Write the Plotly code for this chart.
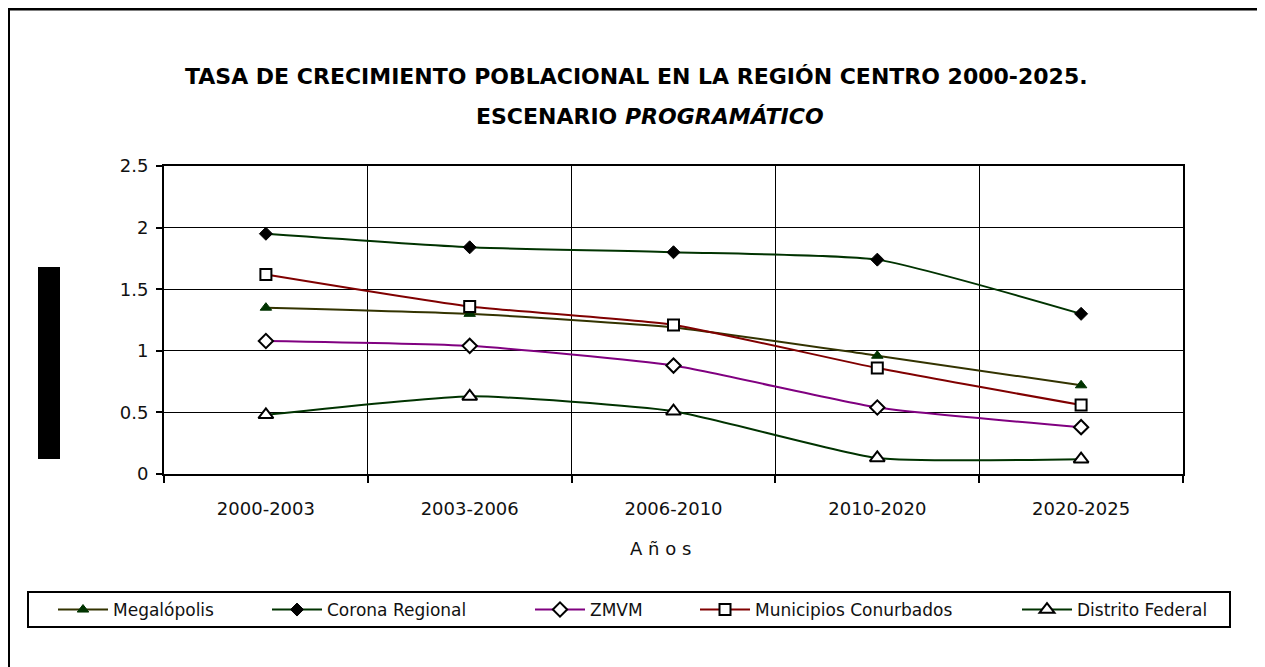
import plotly.graph_objects as go

# Datos
periodos = ["2000-2003", "2003-2006", "2006-2010", "2010-2020", "2020-2025"]
megalopolis = [1.35, 1.30, 1.19, 0.96, 0.72]
corona_regional = [1.95, 1.84, 1.80, 1.74, 1.30]
zmvm = [1.08, 1.04, 0.88, 0.54, 0.38]
municipios_conurbados = [1.62, 1.36, 1.21, 0.86, 0.56]
distrito_federal = [0.48, 0.63, 0.51, 0.13, 0.12]

# La página tiene 8px de margen; todo se mide en pixeles de la página
MARGEN = 8
ANCHO, ALTO = 1265, 667
# Área de trazado en pixeles (izq, der, arriba, abajo)
IZQ, DER, ARR, ABA = 164, 1183, 166, 474


def px_x(px):
    return (px - IZQ) / (DER - IZQ)


def px_y(py):
    return (ABA - py) / (ABA - ARR)


series = [
    ("Megalópolis", megalopolis, "#333300",
     dict(symbol="triangle-up", size=10, color="#003300", line=dict(color="#003300", width=1))),
    ("Corona Regional", corona_regional, "#003300",
     dict(symbol="diamond", size=10, color="black", line=dict(color="black", width=1))),
    ("ZMVM", zmvm, "#800080",
     dict(symbol="diamond", size=11, color="white", line=dict(color="black", width=2))),
    ("Municipios Conurbados", municipios_conurbados, "#800000",
     dict(symbol="square", size=11, color="white", line=dict(color="black", width=2))),
    ("Distrito Federal", distrito_federal, "#003300",
     dict(symbol="triangle-up", size=13, color="white", line=dict(color="black", width=2))),
]

# inicio del texto (px) de cada entrada de la leyenda
inicio_texto = [113, 327, 590, 755, 1077]

fig = go.Figure()
for i, (nombre, valores, color, marcador) in enumerate(series):
    ley = "legend" if i == 0 else f"legend{i + 1}"
    fig.add_trace(go.Scatter(
        x=periodos, y=valores, name=nombre, mode="lines+markers",
        line=dict(color=color, width=2, shape="spline", smoothing=0.5),
        marker=marcador, legend=ley,
    ))
    fig.update_layout({ley: dict(
        x=px_x(inicio_texto[i] - 60), y=px_y(610), xanchor="left", yanchor="middle",
        orientation="h", bgcolor="rgba(0,0,0,0)", itemwidth=50,
        font=dict(family="DejaVu Sans", size=17, color="#111"),
    )})

fig.update_layout(
    width=ANCHO - MARGEN, height=ALTO - MARGEN,
    margin=dict(l=IZQ - MARGEN, r=ANCHO - DER, t=ARR - MARGEN, b=ALTO - ABA),
    paper_bgcolor="white", plot_bgcolor="white",
    showlegend=True,
    font=dict(family="DejaVu Sans", size=18, color="#111"),
)

fig.update_xaxes(
    type="category", range=[-0.5, 4.5], tickson="boundaries",
    ticks="outside", ticklen=7, tickwidth=2, tickcolor="black",
    showline=True, linewidth=2, linecolor="black", mirror=True,
    showgrid=True, gridcolor="black", gridwidth=1,
    ticklabelstandoff=17, tickfont=dict(size=18),
)
fig.update_yaxes(
    range=[0, 2.5], dtick=0.5,
    ticks="outside", ticklen=6, tickwidth=2, tickcolor="black",
    showline=True, linewidth=2, linecolor="black", mirror=True,
    showgrid=True, gridcolor="black", gridwidth=1,
    zeroline=False, ticklabelstandoff=4, tickfont=dict(size=18),
)

# Título en dos líneas
fuente_titulo = dict(family="DejaVu Sans", size=22, color="black")
fig.add_annotation(
    text="<b>TASA DE CRECIMIENTO POBLACIONAL EN LA REGIÓN CENTRO 2000-2025.</b>",
    x=px_x(636), xref="paper", xanchor="center",
    y=px_y(76), yref="paper", yanchor="middle", showarrow=False,
    font=fuente_titulo,
)
fig.add_annotation(
    text="<b>ESCENARIO <i>PROGRAMÁTICO</i></b>",
    x=px_x(650), xref="paper", xanchor="center",
    y=px_y(117), yref="paper", yanchor="middle", showarrow=False,
    font=fuente_titulo,
)

# Título del eje X
fig.add_annotation(
    text="A ñ o s", x=px_x(660), xref="paper", xanchor="center",
    y=px_y(548), yref="paper", yanchor="middle", showarrow=False,
    font=dict(family="DejaVu Sans", size=18, color="#111"),
)

# Marco exterior, recuadro negro y caja de la leyenda
fig.add_shape(type="line", xref="paper", yref="paper",
              x0=px_x(8), x1=px_x(1265), y0=px_y(9), y1=px_y(9),
              line=dict(color="black", width=3))
fig.add_shape(type="line", xref="paper", yref="paper",
              x0=px_x(9), x1=px_x(9), y0=px_y(8), y1=px_y(667),
              line=dict(color="black", width=2))
fig.add_shape(type="rect", xref="paper", yref="paper",
              x0=px_x(38), x1=px_x(60), y0=px_y(267), y1=px_y(459),
              fillcolor="black", line=dict(width=0))
fig.add_shape(type="rect", xref="paper", yref="paper",
              x0=px_x(28), x1=px_x(1230), y0=px_y(592), y1=px_y(627),
              fillcolor="rgba(0,0,0,0)", line=dict(color="black", width=2))

fig.write_html("out.html")
